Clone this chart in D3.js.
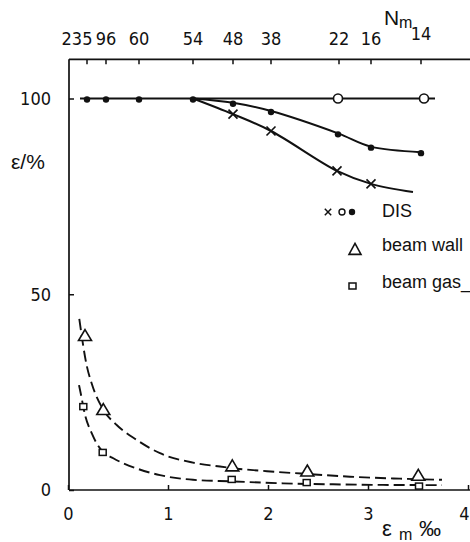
<html>

<head>
    <style>
        body {
            margin: 0;
            background: #fff;
        }
        text {
            font-family: "Liberation Sans", "DejaVu Sans", sans-serif;
            fill: #111;
        }
        .num {
            font-family: "Liberation Sans Narrow", "DejaVu Sans Condensed", "Liberation Sans", sans-serif;
        }
    </style>
</head>

<body>
    <svg id="container" height="542" width="470">
        <g id="frame"></g>
        <g id="body"></g>
        <g id="legend"></g>
    </svg>
</body>
<script src="https://cdn.jsdelivr.net/npm/d3@7"></script>
<script>
    // axis ticks
    let bottomTicks = [0, 1, 2, 3, 4]
    let leftTicks = [0, 50, 100]
    let topTickPos = [0.19, 0.38, 0.71, 1.25, 1.65, 2.03, 2.71, 3.03, 3.53]
    let topTickLabels = ["235", "96", "60", "54", "48", "38", "22", "16", "14"]

    // DIS efficiency (upper curves)
    let flatLine = [[0.12, 100], [3.67, 100]]
    let dotX = [0.19, 0.38, 0.71, 1.25, 1.65, 2.03, 2.70, 3.03, 3.53]
    let dotY = [100, 100, 100, 100, 98.9, 96.8, 91.1, 87.7, 86.3]
    let openX = [2.70, 3.56]
    let openY = [100, 100]
    let crossX = [1.65, 2.03, 2.69, 3.03]
    let crossY = [96.0, 91.7, 81.5, 78.2]
    let crossStart = [1.25, 100]
    let crossEnd = [3.45, 76.1]

    // beam wall / beam gas (lower points + dashed fits)
    let wallX = [0.17, 0.353, 1.643, 2.393, 3.503]
    let wallY = [39.3, 20.4, 6.0, 4.7, 3.6]
    let gasX = [0.153, 0.347, 1.637, 2.387, 3.51]
    let gasY = [21.3, 9.6, 2.7, 1.9, 1.0]
    let wallFit = [[0.113, 43.7], [0.187, 31.8], [0.237, 27.2], [0.353, 20.5], [0.487, 16.6], [0.687, 12.8],
        [0.92, 9.4], [1.25, 7.0], [1.52, 6.0], [1.75, 5.3], [1.99, 4.8], [2.39, 4.1], [2.82, 3.4], [3.32, 2.9], [3.74, 2.6]]
    let gasFit = [[0.11, 26.8], [0.127, 24.7], [0.17, 19.2], [0.237, 14.5], [0.287, 11.9], [0.347, 9.8], [0.453, 8.1],
        [0.687, 5.5], [0.92, 3.8], [1.25, 2.6], [1.64, 2.2], [2.15, 1.7], [2.65, 1.45], [3.15, 1.3], [3.74, 1.25]]

    let xScale = d3.scaleLinear().domain([0, 4]).range([68, 468])
    let yScale = d3.scaleLinear().domain([0, 100]).range([490, 98.5])
    let yTop = yScale(110)

    let frame = d3.select("#frame")
    let body = d3.select("#body")
    let legend = d3.select("#legend")

    // left and bottom axes, ticks pointing inward
    let bottomAxis = d3.axisBottom(xScale).tickValues(bottomTicks).tickFormat(d3.format("d"))
        .tickSize(-5).tickPadding(17)
    frame.append("g")
        .attr("transform", `translate(0, ${yScale(0)})`)
        .call(bottomAxis)
    let leftAxis = d3.axisLeft(yScale).tickValues(leftTicks).tickSize(-5).tickPadding(18)
    frame.append("g")
        .attr("transform", `translate(${xScale(0) + 1}, 0)`)
        .call(leftAxis)
    frame.selectAll(".domain").remove()
    frame.selectAll(".tick line").attr("stroke", "#111").attr("stroke-width", 1.5)
    frame.selectAll(".tick text").attr("class", "num").style("font-size", "18px").attr("fill", "#111")
    // the "4" sits on the right edge
    frame.selectAll(".tick text").filter(d => d == 4).attr("text-anchor", "end").attr("dx", 1)

    // axis lines themselves
    frame.append("line")
        .attr("x1", xScale(0) + 1).attr("x2", xScale(0) + 1)
        .attr("y1", yTop).attr("y2", yScale(0))
        .attr("stroke", "#111").attr("stroke-width", 1.7)
    frame.append("line")
        .attr("x1", xScale(0) + 1).attr("x2", 470)
        .attr("y1", yScale(0)).attr("y2", yScale(0))
        .attr("stroke", "#111").attr("stroke-width", 1.7)
    frame.append("line")
        .attr("x1", xScale(0) + 1).attr("x2", 470)
        .attr("y1", yTop).attr("y2", yTop)
        .attr("stroke", "#111").attr("stroke-width", 1.7)

    // top N_m axis
    let topAxis = frame.append("g")
    topAxis.selectAll("line.ttick")
        .data(topTickPos)
        .enter().append("line")
        .attr("x1", d => xScale(d)).attr("x2", d => xScale(d))
        .attr("y1", yTop).attr("y2", yTop + 5)
        .attr("stroke", "#111").attr("stroke-width", 1.5)
    topAxis.selectAll("text")
        .data(topTickLabels)
        .enter().append("text")
        .attr("class", "num")
        .attr("x", (d, i) => xScale(topTickPos[i]) + (i == 0 ? -10 : 0))
        .attr("y", (d, i) => i == topTickLabels.length - 1 ? 40 : 45)
        .attr("text-anchor", "middle")
        .style("font-size", "18px")
        .text(d => d)

    // axis titles
    frame.append("text").attr("x", 384).attr("y", 25).style("font-size", "21px").text("N")
    frame.append("text").attr("x", 399).attr("y", 28).style("font-size", "16px").text("m")
    frame.append("text").attr("x", 11).attr("y", 169).style("font-size", "21px").text("ε/%")
    frame.append("text").attr("x", 382).attr("y", 536).style("font-size", "22px").text("ε")
    frame.append("text").attr("x", 399).attr("y", 540).style("font-size", "16px").text("m")
    frame.append("text").attr("x", 419).attr("y", 536).style("font-size", "22px").text("‰")

    let line = d3.line().x(d => xScale(d[0])).y(d => yScale(d[1]))

    // solid DIS curves
    body.append("path")
        .attr("d", line(flatLine))
        .attr("fill", "none").attr("stroke", "#111").attr("stroke-width", 2.2)

    let dotCurve = [[1.25, 100]].concat(dotX.slice(4).map((x, i) => [x, dotY[i + 4]]))
    body.append("path")
        .attr("d", line.curve(d3.curveCatmullRom)(dotCurve))
        .attr("fill", "none").attr("stroke", "#111").attr("stroke-width", 2)

    let crossCurve = [crossStart].concat(crossX.map((x, i) => [x, crossY[i]]), [crossEnd])
    body.append("path")
        .attr("d", line.curve(d3.curveCatmullRom)(crossCurve))
        .attr("fill", "none").attr("stroke", "#111").attr("stroke-width", 2)

    // dashed fits
    body.selectAll("path.fit")
        .data([wallFit, gasFit])
        .enter().append("path")
        .attr("class", "fit")
        .attr("d", d => line.curve(d3.curveMonotoneX)(d))
        .attr("fill", "none").attr("stroke", "#111").attr("stroke-width", 1.9)
        .attr("stroke-dasharray", "11,5")

    // markers
    body.selectAll("circle.dot")
        .data(dotX)
        .enter().append("circle")
        .attr("cx", d => xScale(d))
        .attr("cy", (d, i) => yScale(dotY[i]) + 1)
        .attr("r", 3.2).attr("fill", "#111")

    body.selectAll("circle.open")
        .data(openX)
        .enter().append("circle")
        .attr("cx", d => xScale(d))
        .attr("cy", (d, i) => yScale(openY[i]))
        .attr("r", 4.5).attr("fill", "#fff").attr("stroke", "#111").attr("stroke-width", 1.6)

    let cross = (s) => `M${-s},${-s}L${s},${s}M${-s},${s}L${s},${-s}`
    body.selectAll("path.cross")
        .data(crossX)
        .enter().append("path")
        .attr("transform", (d, i) => `translate(${xScale(d)}, ${yScale(crossY[i])})`)
        .attr("d", cross(4.5))
        .attr("stroke", "#111").attr("stroke-width", 1.6)

    let tri = (w, h) => `M0,${-h * 0.6}L${w / 2},${h * 0.4}L${-w / 2},${h * 0.4}Z`
    body.selectAll("path.tri")
        .data(wallX)
        .enter().append("path")
        .attr("transform", (d, i) => `translate(${xScale(d)}, ${yScale(wallY[i])})`)
        .attr("d", tri(13, 11))
        .attr("fill", "#fff").attr("stroke", "#111").attr("stroke-width", 1.6)

    body.selectAll("rect.gas")
        .data(gasX)
        .enter().append("rect")
        .attr("x", d => xScale(d) - 3.5)
        .attr("y", (d, i) => yScale(gasY[i]) - 3)
        .attr("width", 7).attr("height", 6)
        .attr("fill", "#fff").attr("stroke", "#111").attr("stroke-width", 1.5)

    // legend
    legend.append("path").attr("transform", "translate(328, 212)").attr("d", cross(3.2))
        .attr("stroke", "#111").attr("stroke-width", 1.5)
    legend.append("circle").attr("cx", 342).attr("cy", 212).attr("r", 3)
        .attr("fill", "#fff").attr("stroke", "#111").attr("stroke-width", 1.4)
    legend.append("circle").attr("cx", 352).attr("cy", 212).attr("r", 3.2).attr("fill", "#111")
    legend.append("text").attr("x", 382).attr("y", 217).style("font-size", "18px").text("DIS")

    legend.append("path").attr("transform", "translate(355, 250)").attr("d", tri(12, 11))
        .attr("fill", "#fff").attr("stroke", "#111").attr("stroke-width", 1.6)
    legend.append("text").attr("x", 382).attr("y", 251).style("font-size", "18px").text("beam wall")

    legend.append("rect").attr("x", 349).attr("y", 283).attr("width", 7).attr("height", 6)
        .attr("fill", "#fff").attr("stroke", "#111").attr("stroke-width", 1.5)
    legend.append("text").attr("x", 382).attr("y", 288).style("font-size", "18px").text("beam gas_")
</script>

</html>
